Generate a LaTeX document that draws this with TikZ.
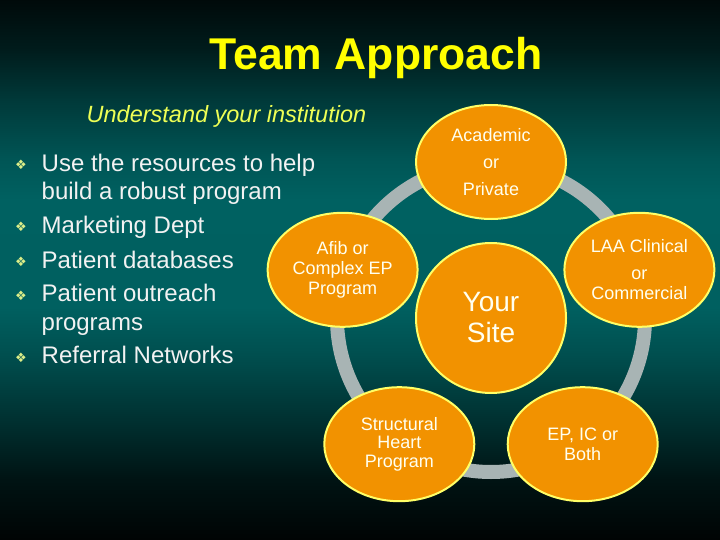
\documentclass[tikz,border=0pt]{standalone}
\usepackage{fontspec}
\setmainfont{Liberation Sans}
\newfontfamily\dejavu{DejaVu Sans}
\usetikzlibrary{shapes.geometric}
\definecolor{ringgray}{HTML}{A8B4B4}
\definecolor{orangefill}{HTML}{F29200}
\definecolor{yellowedge}{HTML}{FFFF66}
\definecolor{titleyellow}{HTML}{FFFF00}
\definecolor{subyellow}{HTML}{EEFF55}
\definecolor{bulletcol}{HTML}{DDEE88}
\definecolor{textwhite}{HTML}{F2F2F2}
\definecolor{ovaltext}{HTML}{FFFFF0}
% y (px) -> bp = 75 - 50*y/540
\pgfdeclareverticalshading{slidebg}{100bp}{%
  color(0bp)=(black);
  color(25bp)=(black!97!teal);
  color(30.6bp)=(black!85!teal);
  color(36.1bp)=(black!62!teal);
  color(42.2bp)=(black!38!teal);
  color(46.5bp)=(black!25!teal);
  color(56.5bp)=(black!24!teal);
  color(60.2bp)=(black!33!teal);
  color(65.7bp)=(black!55!teal);
  color(70.4bp)=(black!78!teal);
  color(75bp)=(black!92!teal);
  color(100bp)=(black!92!teal)}
\begin{document}
\begin{tikzpicture}[x=1pt,y=-1pt,
  oval/.style={ellipse, draw=yellowedge, line width=2pt, fill=orangefill,
    minimum width=150pt, minimum height=114pt, inner sep=0pt,
    align=center, text=ovaltext, font=\fontsize{18}{20}\selectfont},
  sitecircle/.style={circle, draw=yellowedge, line width=2pt, fill=orangefill,
    minimum size=150pt, inner sep=0pt, align=center, text=ovaltext,
    font=\fontsize{28}{31}\selectfont},
  bullettext/.style={anchor=base west, inner sep=0pt, text=textwhite,
    font=\fontsize{24}{28}\selectfont},
  bul/.style={anchor=base, inner sep=0pt, text=bulletcol,
    font=\dejavu\fontsize{13}{13}\selectfont},
  ring/.style={draw=ringgray, line width=14pt}]
\shade[shading=slidebg] (0,0) rectangle (720,540);
\useasboundingbox (0,0) rectangle (720,540);

% title and subtitle
\node[anchor=base, inner sep=0pt, text=titleyellow, font=\bfseries\fontsize{44.5}{50}\selectfont] (title) at (376,70) {Team Approach};
\node[anchor=base west, inner sep=0pt, text=subyellow, font=\itshape\fontsize{23.5}{28}\selectfont] (sub) at (86.5,123) {Understand your institution};

% bullets
\node[bul] (b1) at (21,170) {❖};
\node[bullettext] (t1) at (41.5,171.5) {Use the resources to help};
\node[bullettext] (t1b) at (41.5,200) {build a robust program};
\node[bul] (b2) at (21,232) {❖};
\node[bullettext] (t2) at (41.5,233.5) {Marketing Dept};
\node[bul] (b3) at (21,266.5) {❖};
\node[bullettext] (t3) at (41.5,268) {Patient databases};
\node[bul] (b4) at (21,300) {❖};
\node[bullettext] (t4) at (41.5,301.5) {Patient outreach};
\node[bullettext] (t4b) at (41.5,330) {programs};
\node[bul] (b5) at (21,362) {❖};
\node[bullettext] (t5) at (41.5,363.5) {Referral Networks};

% cycle
\coordinate (c) at (491,318);
\draw[ring] (c) circle (154);
\node[sitecircle] (site) at (c) {Your\\Site};
\node[oval] (acad) at (491,162) {Academic\\[7pt]or\\[7pt]Private};
\node[oval] (laa) at (639.4,269.8) {LAA Clinical\\[7pt]or\\Commercial};
\node[oval] (epic) at (582.7,444.2) {EP, IC or\\Both};
\node[oval, font=\fontsize{18}{18.5}\selectfont] (struct) at (399.3,444.2) {Structural\\Heart\\Program};
\node[oval] (afib) at (342.6,269.8) {Afib or\\Complex EP\\Program};
\end{tikzpicture}
\end{document}
